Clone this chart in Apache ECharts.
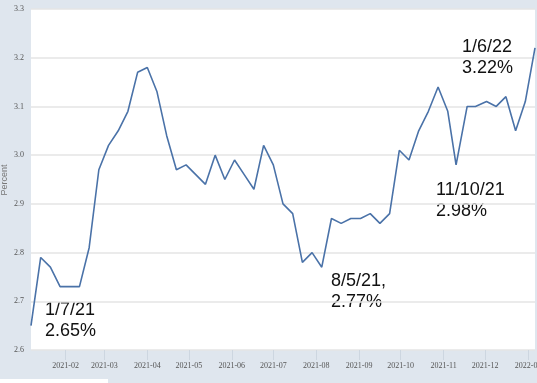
<!DOCTYPE html>
<html>
<head>
<meta charset="utf-8">
<script src="https://cdn.jsdelivr.net/npm/echarts@6/dist/echarts.min.js"></script>
<style>
html,body{margin:0;padding:0;background:#dfe6ee;}
#c{width:537px;height:383px;}
</style>
</head>
<body>
<div id="c"></div>
<script>
const dates = ['2021-01-07','2021-01-14','2021-01-21','2021-01-28','2021-02-04','2021-02-11','2021-02-18','2021-02-25',
'2021-03-04','2021-03-11','2021-03-18','2021-03-25','2021-04-01','2021-04-08','2021-04-15','2021-04-22','2021-04-29',
'2021-05-06','2021-05-13','2021-05-20','2021-05-27','2021-06-03','2021-06-10','2021-06-17','2021-06-24',
'2021-07-01','2021-07-08','2021-07-15','2021-07-22','2021-07-29','2021-08-05','2021-08-12','2021-08-19','2021-08-26',
'2021-09-02','2021-09-09','2021-09-16','2021-09-23','2021-09-30','2021-10-07','2021-10-14','2021-10-21','2021-10-28',
'2021-11-04','2021-11-10','2021-11-18','2021-11-24','2021-12-02','2021-12-09','2021-12-16','2021-12-23','2021-12-30','2022-01-06'];
const rates = [2.65,2.79,2.77,2.73,2.73,2.73,2.81,2.97,
3.02,3.05,3.09,3.17,3.18,3.13,3.04,2.97,2.98,
2.96,2.94,3.00,2.95,2.99,2.96,2.93,3.02,
2.98,2.90,2.88,2.78,2.80,2.77,2.87,2.86,2.87,
2.87,2.88,2.86,2.88,3.01,2.99,3.05,3.09,3.14,
3.09,2.98,3.10,3.10,3.11,3.10,3.12,3.05,3.11,3.22];
const yTicks = [2.6,2.7,2.8,2.9,3.0,3.1,3.2,3.3];
const yTitle = 'Percent';
const annotations = [
  {text:'1/7/21\n2.65%', x:45, y:300},
  {text:'8/5/21,\n2.77%', x:331, y:271},
  {text:'11/10/21\n2.98%', x:436, y:180},
  {text:'1/6/22\n3.22%', x:462, y:37}
];
const DAY = 86400000;
const toTime = s => { const p = s.split('-').map(Number); return Date.UTC(p[0], p[1]-1, p[2]); };
const seriesData = dates.map((d,i)=>[toTime(d), rates[i]]);

const chart = echarts.init(document.getElementById('c'), null, {renderer:'canvas'});
chart.setOption({
  backgroundColor:'#dfe6ee',
  animation:false,
  grid:{left:31, right:2, top:9, bottom:33, show:true, backgroundColor:'#ffffff', borderWidth:0, containLabel:false, outerBoundsMode:'none'},
  xAxis:{
    type:'time',
    min: toTime(dates[0]),
    max: toTime(dates[dates.length-1]),
    splitNumber:12,
    minInterval: 28*DAY,
    maxInterval: 31*DAY,
    axisLine:{show:false},
    axisTick:{show:true, length:10, lineStyle:{color:'#cdd6e0', width:1}},
    splitLine:{show:false},
    axisLabel:{
      formatter: v => { const d = new Date(v); return d.getUTCFullYear() + '-' + String(d.getUTCMonth()+1).padStart(2,'0'); },
      fontFamily:'Liberation Sans Narrow', fontSize:8, color:'#555', margin:12,
      showMinLabel:false, showMaxLabel:false, hideOverlap:true
    }
  },
  yAxis:{
    type:'value', min:2.6, max:3.3, interval:0.1,
    axisLine:{show:false}, axisTick:{show:false},
    splitLine:{lineStyle:{color:'#e4e4e4', width:1.5}},
    axisLabel:{formatter: v => yTicks.find(t=>Math.abs(t-v)<1e-6).toFixed(1), fontFamily:'Liberation Sans Narrow', fontSize:8, color:'#555', margin:7}
  },
  series:[{
    type:'line', data:seriesData, symbol:'none',
    lineStyle:{color:'#4a72a8', width:1.6}
  }],
  graphic: annotations.map(a=>({
    type:'text', left:a.x, top:a.y,
    style:{text:a.text, font:'18px "Liberation Sans"', fill:'#111', lineHeight:21}
  })).concat([
    {type:'rect', left:0, top:379, shape:{width:108, height:4}, style:{fill:'#ffffff'}},
    {type:'text', x:5, y:180, rotation:Math.PI/2,
     style:{text:yTitle, font:'9px "Liberation Sans"', fill:'#777', align:'center', verticalAlign:'middle'}}
  ])
});
</script>
</body>
</html>
